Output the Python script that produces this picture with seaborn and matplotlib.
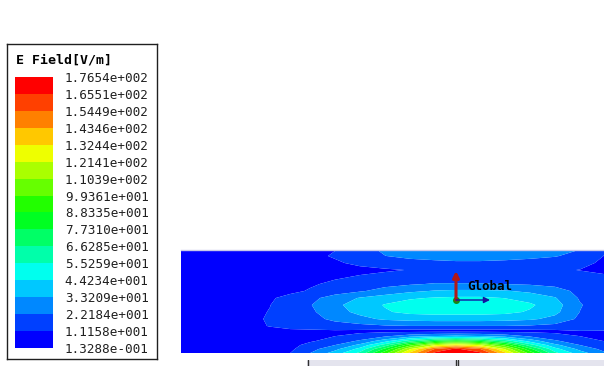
import numpy as np
import matplotlib
matplotlib.use("Agg")
import matplotlib.pyplot as plt
from matplotlib.colors import ListedColormap
import seaborn as sns

# legend levels in V/m, bottom to top
levels = [0.13288, 11.158, 22.184, 33.209, 44.234, 55.259, 66.285, 77.310,
          88.335, 99.361, 110.39, 121.41, 132.44, 143.46, 154.49, 165.51, 176.54]
band_colors = ["#0000FF", "#0040FF", "#0088FF", "#00C8FF", "#00FFEE", "#00FFAA",
               "#00FF66", "#00FF22", "#22FF00", "#66FF00", "#AAFF00", "#EEFF00",
               "#FFC800", "#FF8000", "#FF4000", "#FF0000"]

# sample positions of the field cut (picture units, y grows downwards)
field_x = [181, 230, 270, 290, 310, 335, 360, 385, 410, 435, 456, 480, 505, 530, 555, 580, 604]
field_y = [250, 256, 263, 270, 277, 284, 291, 298, 305, 312, 319, 326, 331, 336, 341, 345, 349, 353]

# |E|, one row per field_y
e_field = [
    [3, 4, 6, 7, 9, 11, 18, 24, 27, 29, 30, 30, 29, 27, 25, 22, 12],
    [3, 4, 6, 7, 9, 12, 17, 22, 25, 27, 28, 28, 27, 25, 23, 18, 11],
    [3, 4, 5, 6, 8, 10, 13, 16, 18, 19, 20, 20, 19, 18, 16, 13, 10],
    [2, 3, 4, 5, 6, 8, 9, 10, 11.5, 12, 12.5, 13, 13, 12.5, 12, 11, 10],
    [2, 3, 5, 6, 8, 10, 12, 14, 15, 16, 16, 16, 16, 15, 14, 13, 12],
    [3, 4, 6, 8, 10, 13, 16, 19, 21, 23, 23, 23, 22, 21, 19, 15, 13],
    [3, 5, 7, 9, 12, 17, 21, 26, 31, 34, 35, 35, 34, 31, 27, 19, 14],
    [4, 6, 10, 14, 19, 27, 34, 39, 43, 45, 46, 46, 44, 40, 34, 21, 15],
    [5, 7, 11, 16, 21.5, 31, 38, 45, 49, 51, 51, 51, 49, 46, 38, 23, 16],
    [5, 7, 11.5, 15, 20, 29, 36, 43, 47, 48, 48, 48, 47, 43, 36, 22, 16],
    [5, 7, 12, 14, 18, 25, 30, 35, 37, 38, 38, 38, 37, 35, 30, 20, 15],
    [5, 7, 11.5, 13, 14, 17, 19, 21, 22, 22, 22, 22, 22, 21, 19, 16, 13],
    [5, 6, 9, 10, 10, 10, 9, 8, 7, 7, 7, 7, 7, 8, 9, 11, 11],
    [4, 5, 6, 8, 9, 11, 14, 20, 28, 33, 35, 33, 28, 20, 14, 11, 10],
    [4, 4, 5, 7, 10, 15, 24, 40, 62, 78, 85, 78, 62, 40, 24, 15, 11],
    [3, 4, 5, 8, 14, 22, 36, 60, 95, 120, 130, 120, 95, 60, 36, 22, 15],
    [3, 4, 5, 9, 18, 30, 48, 80, 120, 155, 168, 155, 120, 80, 48, 30, 19],
    [3, 4, 6, 11, 22, 38, 58, 95, 135, 168, 175, 168, 135, 95, 58, 38, 24],
]

# global coordinate triad
triad_origin = (456, 300)
triad_up = (456, 271)
triad_right = (490, 300)


def hfss_label(v):
    mant, exp = f"{v:.4e}".split("e")
    return f"{mant}e{int(exp):+04d}"


sns.set_theme(style="white")
plt.rcParams["font.family"] = ["DejaVu Sans Mono"]

W, H = 604, 366
fig = plt.figure(figsize=(W / 100, H / 100), dpi=100)
fig.patch.set_facecolor("white")


def px_axes(x0, y0, x1, y1):
    return fig.add_axes([x0 / W, 1 - y1 / H, (x1 - x0) / W, (y1 - y0) / H])


# legend frame
ax_box = px_axes(7, 44, 157, 359)
ax_box.set_xticks([])
ax_box.set_yticks([])
for s in ax_box.spines.values():
    s.set_color("#202020")
    s.set_linewidth(1.0)
fig.text(16 / W, 1 - 60 / H, "E Field[V/m]", fontsize=9.5, fontweight="bold",
         color="black", ha="left", va="center")

# legend colour bar drawn as a one-column heatmap
ax_bar = px_axes(15, 77, 53, 348)
band_idx = np.arange(len(band_colors))[::-1].reshape(-1, 1)
sns.heatmap(band_idx, ax=ax_bar, cmap=ListedColormap(band_colors),
            vmin=-0.5, vmax=len(band_colors) - 0.5, cbar=False,
            xticklabels=False, yticklabels=False)
ax_bar.yaxis.tick_right()
ax_bar.set_yticks(np.arange(len(levels)))
ax_bar.set_yticklabels([hfss_label(v) for v in levels[::-1]], fontsize=9.1,
                       color="#202020")
ax_bar.tick_params(axis="y", length=0, pad=8.5, right=True, left=False)
ax_bar.set_ylim(len(band_colors), 0)

# field plot
ax = px_axes(181, 250, 604, 353)
ax.contourf(field_x, field_y, e_field, levels=levels, colors=band_colors,
            antialiased=True)
ax.set_xlim(field_x[0], field_x[-1])
ax.set_ylim(field_y[-1], field_y[0])
ax.set_xticks([])
ax.set_yticks([])
for s in ax.spines.values():
    s.set_visible(False)
ax.spines["top"].set_visible(True)
ax.spines["top"].set_color("#C8C8E8")
ax.spines["top"].set_linewidth(1)

ax.annotate("", xy=triad_up, xytext=triad_origin,
            arrowprops=dict(arrowstyle="-|>", color="#B01818", lw=2.2,
                            mutation_scale=9, shrinkA=0, shrinkB=0))
ax.annotate("", xy=triad_right, xytext=triad_origin,
            arrowprops=dict(arrowstyle="-|>", color="#1414A0", lw=1.0,
                            mutation_scale=9, shrinkA=0, shrinkB=0))
ax.plot(*triad_origin, "o", color="#168816", ms=4)
ax.text(467, 287, "Global", fontsize=9, fontweight="bold", color="black",
        ha="left", va="center")

# partial ruler under the plot
ax_r = px_axes(307, 360, 604, 366)
ax_r.set_facecolor("#E4E4EE")
ax_r.set_xlim(307, 604)
ax_r.set_xticks([])
ax_r.set_yticks([])
for s in ax_r.spines.values():
    s.set_visible(False)
for xr in [308, 455.5, 457.5]:
    ax_r.axvline(xr, color="#303030", lw=1)

fig.savefig("out.png", dpi=100, facecolor="white")
